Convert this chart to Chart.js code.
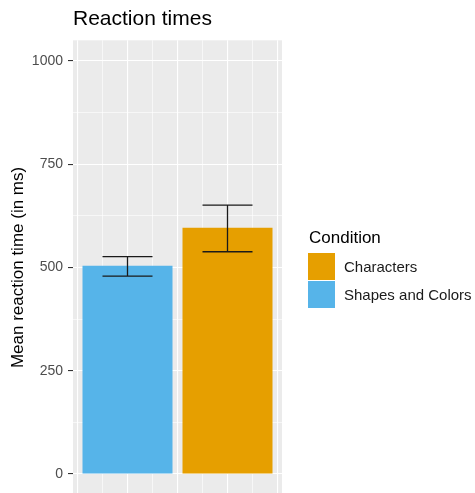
<!DOCTYPE html>
<html><head><meta charset="utf-8">
<script src="https://cdn.jsdelivr.net/npm/chart.js@4/dist/chart.umd.min.js"></script>
<style>
html,body{margin:0;padding:0;background:#fff;overflow:hidden;}
#wrap{position:relative;width:475px;height:500px;}
#legend{position:absolute;left:0;top:0;width:475px;height:493px;font-family:'Liberation Sans',Arial,sans-serif;pointer-events:none;}
#legend .ttl{position:absolute;left:309px;top:228px;font-size:17px;line-height:20px;color:#000;white-space:nowrap;}
#legend .key{position:absolute;left:308px;width:27px;height:27px;}
#legend .lab{position:absolute;left:344px;height:27px;line-height:27px;font-size:15px;color:#1a1a1a;white-space:nowrap;}
</style></head><body>
<div id="wrap"><canvas id="c" width="475" height="500"></canvas><div id="legend"></div></div>
<script>
// ---- data ----
const categories = ['Shapes and Colors', 'Characters'];
const xPositions = [1, 2];
const meanRT = [504, 596];
const lowerRT = [479, 538];
const upperRT = [526, 651];
const barColors = ['#56B4E9', '#E69F00'];
const legendOrder = ['Characters', 'Shapes and Colors'];
const yMajorTicks = [0, 250, 500, 750, 1000];

const FONT = "'Liberation Sans', Arial, sans-serif";
const xMin = 0.455, xMax = 2.545;
const errorHalfWidth = 0.25;

const panelBg = {
  id: 'panelBg',
  beforeDraw(chart) {
    const a = chart.chartArea, ctx = chart.ctx;
    ctx.save();
    ctx.fillStyle = '#EBEBEB';
    ctx.fillRect(a.left, a.top, a.right - a.left, a.bottom - a.top);
    ctx.restore();
  }
};

const errorBars = {
  id: 'errorBars',
  afterDatasetsDraw(chart) {
    const ctx = chart.ctx, x = chart.scales.x, y = chart.scales.y;
    ctx.save();
    ctx.strokeStyle = '#1a1a1a';
    ctx.lineWidth = 1.3;
    categories.forEach((c, i) => {
      const cx = x.getPixelForValue(xPositions[i]);
      const hw = x.getPixelForValue(xPositions[i] + errorHalfWidth) - cx;
      const yl = y.getPixelForValue(lowerRT[i]);
      const yh = y.getPixelForValue(upperRT[i]);
      ctx.beginPath();
      ctx.moveTo(cx - hw, yh); ctx.lineTo(cx + hw, yh);
      ctx.moveTo(cx, yh); ctx.lineTo(cx, yl);
      ctx.moveTo(cx - hw, yl); ctx.lineTo(cx + hw, yl);
      ctx.stroke();
    });
    ctx.restore();
  }
};

const datasets = categories.map((cat, i) => ({
  label: cat,
  data: [{ x: xPositions[i], y: meanRT[i] }],
  backgroundColor: barColors[i],
  borderWidth: 0,
  grouped: false,
  categoryPercentage: 0.9,
  barPercentage: 1.0,
  xAxisID: 'x'
}));

const tv = c => (c && c.tick) ? c.tick.value : null;
const isMajorY = v => yMajorTicks.includes(v);
const isMajorX = v => v !== null && Math.abs(v * 2 - Math.round(v * 2)) < 1e-6;

new Chart(document.getElementById('c'), {
  type: 'bar',
  data: { datasets },
  options: {
    responsive: false,
    animation: false,
    devicePixelRatio: 1,
    layout: { padding: { left: 0, right: 193, top: 0, bottom: 5.4 } },
    plugins: {
      legend: { display: false },
      tooltip: { enabled: false },
      title: {
        display: true, text: 'Reaction times', align: 'start', fullSize: false,
        color: '#000', font: { family: FONT, size: 21, weight: 'normal' },
        padding: { top: 7, bottom: 8.1 }
      }
    },
    scales: {
      x: {
        type: 'linear', min: xMin, max: xMax, offset: false,
        ticks: { display: false, stepSize: 1, includeBounds: false },
        grid: { display: false, offset: false }, border: { display: false },
        afterFit(s) { s.height = 0; s.paddingLeft = 0; s.paddingRight = 0; }
      },
      xGrid: {
        type: 'linear', position: 'bottom', min: xMin, max: xMax, offset: false,
        ticks: { display: false, stepSize: 0.25, includeBounds: false },
        grid: { color: '#FFFFFF', lineWidth: c => isMajorX(tv(c)) ? 1.1 : 0.6, drawTicks: false, offset: false },
        border: { display: false },
        afterFit(s) { s.height = 0; s.paddingLeft = 0; s.paddingRight = 0; }
      },
      y: {
        min: -50, max: 1050,
        afterFit(s) { s.width = 73; s.paddingTop = 0; s.paddingBottom = 0; },
        border: { display: false },
        grid: {
          color: '#FFFFFF',
          lineWidth: c => isMajorY(tv(c)) ? 1.1 : 0.6,
          tickColor: c => isMajorY(tv(c)) ? '#333333' : 'rgba(0,0,0,0)',
          tickWidth: 1.1,
          tickLength: 5
        },
        ticks: {
          stepSize: 125, includeBounds: false, autoSkip: false, padding: 5,
          color: '#4D4D4D', font: { family: FONT, size: 14 },
          callback: v => isMajorY(v) ? String(v) : ''
        },
        title: {
          display: true, text: 'Mean reaction time (in ms)', color: '#000',
          font: { family: FONT, size: 17 }, padding: { top: 8, bottom: 0 }
        }
      }
    }
  },
  plugins: [panelBg, errorBars]
});

// legend (ggplot-style, right side)
const leg = document.getElementById('legend');
const t = document.createElement('div'); t.className = 'ttl'; t.textContent = 'Condition'; leg.appendChild(t);
legendOrder.forEach((name, k) => {
  const i = categories.indexOf(name);
  const top = 253 + k * 28;
  const key = document.createElement('div'); key.className = 'key';
  key.style.top = top + 'px'; key.style.background = barColors[i]; leg.appendChild(key);
  const lab = document.createElement('div'); lab.className = 'lab';
  lab.style.top = top + 'px'; lab.textContent = name; leg.appendChild(lab);
});
</script>
</body></html>
